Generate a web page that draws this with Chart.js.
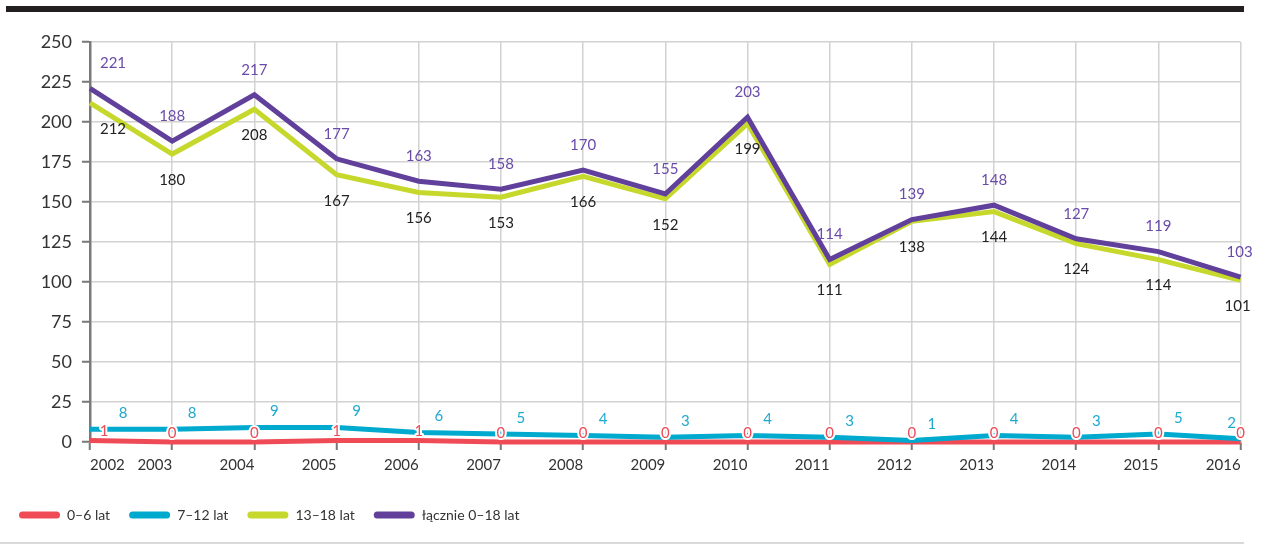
<!DOCTYPE html>
<html lang="pl">
<head>
<meta charset="UTF-8" />
<title>Liczba dzieci 2002-2016</title>
<script src="https://cdn.jsdelivr.net/npm/chart.js"></script>
<style>
    body { margin: 0; background: #fff; }
    #wrap { position: relative; width: 1261px; height: 544px; overflow: hidden; }
    #topBar { position: absolute; left: 6px; top: 6px; width: 1238px; height: 6px; background: #231f20; }
    #bottomLine { position: absolute; left: 0; top: 542px; width: 1244px; height: 2px; background: #d9d9d9; }
    #chartBox { position: absolute; left: 0; top: 0; width: 1261px; height: 544px; }
</style>
</head>
<body>
<div id="wrap">
    <div id="chartBox"><canvas id="lineChart"></canvas></div>
    <div id="topBar"></div>
    <div id="bottomLine"></div>
</div>

<script>
    // data
    const years = ['2002', '2003', '2004', '2005', '2006', '2007', '2008', '2009', '2010', '2011', '2012', '2013', '2014', '2015', '2016'];
    const age0to6 = [1, 0, 0, 1, 1, 0, 0, 0, 0, 0, 0, 0, 0, 0, 0];
    const age7to12 = [8, 8, 9, 9, 6, 5, 4, 3, 4, 3, 1, 4, 3, 5, 2];
    const age13to18 = [212, 180, 208, 167, 156, 153, 166, 152, 199, 111, 138, 144, 124, 114, 101];
    const total = [221, 188, 217, 177, 163, 158, 170, 155, 203, 114, 139, 148, 127, 119, 103];
    const seriesNames = ['0–6 lat', '7–12 lat', '13–18 lat', 'łącznie 0–18 lat'];

    const FONT = 'Lato, "Noto Sans", sans-serif';

    // label look for each dataset (same index as datasets)
    const labelStyles = [
        { color: '#ef4b57', dx: 0, dy: -9, firstDx: 14, lastDx: 0, halo: true },
        { color: '#1fa9d0', dx: 20, dy: -16, firstDx: 33, lastDx: -9, halo: false },
        { color: '#222222', dx: 0, dy: 26, firstDx: 23, lastDx: -3, halo: false },
        { color: '#6a4baa', dx: 0, dy: -25, firstDx: 23, lastDx: -1, halo: false }
    ];

    // draws the value next to every point
    const valueLabels = {
        id: 'valueLabels',
        afterDatasetsDraw(chart) {
            const ctx = chart.ctx;
            ctx.save();
            ctx.font = '15px ' + FONT;
            ctx.textAlign = 'center';
            ctx.textBaseline = 'middle';
            chart.data.datasets.forEach((ds, di) => {
                const st = labelStyles[di];
                const meta = chart.getDatasetMeta(di);
                meta.data.forEach((pt, i) => {
                    let dx = st.dx;
                    if (i === 0) dx = st.firstDx;
                    if (i === meta.data.length - 1) dx = st.lastDx;
                    const x = pt.x + dx, y = pt.y + st.dy;
                    const txt = String(ds.data[i]);
                    if (st.halo) {
                        ctx.strokeStyle = '#fff';
                        ctx.lineWidth = 4;
                        ctx.lineJoin = 'round';
                        ctx.strokeText(txt, x, y);
                    }
                    ctx.fillStyle = st.color;
                    ctx.fillText(txt, x, y);
                });
            });
            ctx.restore();
        }
    };

    // year labels: first one starts at its tick, the others end at theirs
    const yearLabels = {
        id: 'yearLabels',
        afterDraw(chart) {
            const ctx = chart.ctx;
            const xs = chart.scales.x;
            ctx.save();
            ctx.font = '15px ' + FONT;
            ctx.fillStyle = '#333';
            ctx.textBaseline = 'middle';
            years.forEach((yr, i) => {
                ctx.textAlign = i === 0 ? 'left' : 'right';
                ctx.fillText(yr, xs.getPixelForTick(i), xs.top + 23);
            });
            ctx.restore();
        }
    };

    const lineSet = (label, data, color, order) => ({
        label: label,
        data: data,
        borderColor: color,
        backgroundColor: color,
        borderWidth: 5,
        pointRadius: 0,
        pointHoverRadius: 0,
        tension: 0,
        borderJoinStyle: 'miter',
        clip: false,
        order: order
    });

    new Chart(document.getElementById('lineChart').getContext('2d'), {
        type: 'line',
        data: {
            labels: years,
            datasets: [
                lineSet(seriesNames[0], age0to6, '#ef4b57', 2),
                lineSet(seriesNames[1], age7to12, '#00a9ce', 1),
                lineSet(seriesNames[2], age13to18, '#c5d82b', 3),
                lineSet(seriesNames[3], total, '#60409a', 0)
            ]
        },
        options: {
            responsive: true,
            maintainAspectRatio: false,
            animation: false,
            layout: { padding: { top: 42, right: 17, bottom: 12, left: 0 } },
            plugins: {
                tooltip: { enabled: false },
                legend: {
                    position: 'bottom',
                    align: 'start',
                    labels: {
                        boxWidth: 41,
                        boxHeight: 7,
                        padding: 19,
                        color: '#333',
                        font: { family: FONT, size: 14 },
                        useBorderRadius: true,
                        borderRadius: 3.5,
                        sort: (a, b) => a.datasetIndex - b.datasetIndex,
                        generateLabels(chart) {
                            return Chart.defaults.plugins.legend.labels.generateLabels(chart).map(item => {
                                item.fillStyle = chart.data.datasets[item.datasetIndex].borderColor;
                                item.lineWidth = 0;
                                item.strokeStyle = 'transparent';
                                return item;
                            });
                        }
                    }
                }
            },
            scales: {
                x: {
                    offset: false,
                    afterFit(scale) { scale.height = 47; },
                    grid: {
                        color: '#d2d2d2',
                        lineWidth: 1.5,
                        tickColor: '#777',
                        tickWidth: 2,
                        tickLength: 8
                    },
                    border: { color: '#bbb', width: 1.5 },
                    ticks: { color: 'transparent', maxRotation: 0, autoSkip: false, font: { family: FONT, size: 15 } }
                },
                y: {
                    min: 0,
                    max: 250,
                    afterFit(scale) { scale.width = 90; },
                    grid: {
                        color: '#d2d2d2',
                        lineWidth: 1.5,
                        tickColor: '#777',
                        tickWidth: 2,
                        tickLength: 8
                    },
                    border: { color: '#7a7a7a', width: 2.5 },
                    ticks: {
                        stepSize: 25,
                        padding: 10,
                        color: '#333',
                        font: { family: FONT, size: 18 }
                    }
                }
            }
        },
        plugins: [valueLabels, yearLabels]
    });
</script>
</body>
</html>
